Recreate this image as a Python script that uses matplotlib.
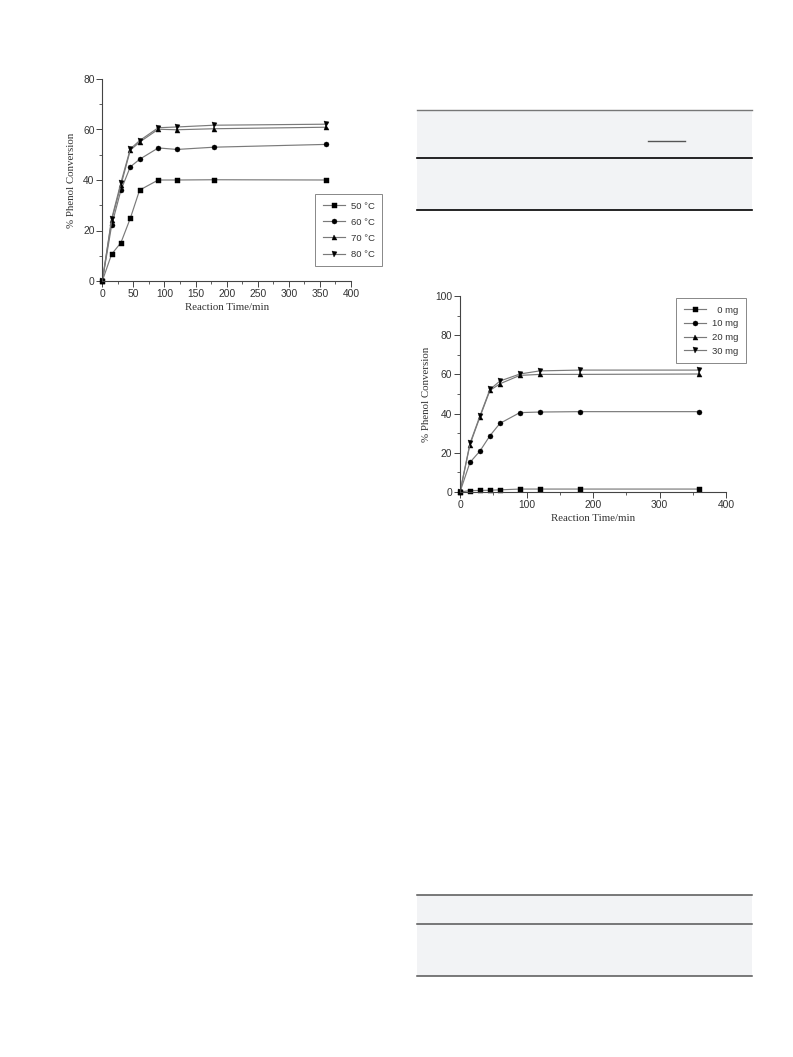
import matplotlib
matplotlib.use("Agg")
import matplotlib.pyplot as plt
from matplotlib.lines import Line2D
from matplotlib.patches import Rectangle
from matplotlib.ticker import MultipleLocator

# ---------------- data ----------------
time_min = [0, 15, 30, 45, 60, 90, 120, 180, 360]

temp_labels = ["50 \u00b0C", "60 \u00b0C", "70 \u00b0C", "80 \u00b0C"]
conv_50C = [0, 10.6, 15.2, 24.8, 36.0, 40.0, 40.0, 40.1, 40.0]
conv_60C = [0, 22.0, 36.0, 45.2, 48.2, 52.7, 52.1, 53.0, 54.1]
conv_70C = [0, 24.0, 38.0, 51.8, 55.0, 60.1, 59.9, 60.3, 60.9]
conv_80C = [0, 24.6, 39.0, 52.3, 55.6, 60.7, 61.0, 61.7, 62.1]

dose_labels = ["  0 mg", "10 mg", "20 mg", "30 mg"]
conv_0mg = [0, 0.7, 0.8, 0.9, 1.1, 1.5, 1.5, 1.5, 1.5]
conv_10mg = [0, 15.1, 20.9, 28.7, 35.0, 40.5, 40.8, 41.0, 41.0]
conv_20mg = [0, 24.2, 38.3, 51.8, 55.2, 59.5, 60.0, 60.0, 60.2]
conv_30mg = [0, 24.8, 38.8, 52.3, 56.6, 60.2, 61.8, 62.2, 62.2]

markers = ["s", "o", "^", "v"]

# ---------------- style ----------------
W, H = 793, 1057
fig = plt.figure(figsize=(W / 100, H / 100), dpi=100)
fig.patch.set_facecolor("white")

tick_font = ["Liberation Sans", "DejaVu Sans"]
label_font = ["Liberation Serif", "DejaVu Serif"]
line_col = "#7a7a7a"
spine_col = "#444444"


def fx(px):
    return px / W


def fy(py):
    return 1 - py / H


def style_axes(ax):
    for s in ["top", "right"]:
        ax.spines[s].set_visible(False)
    for s in ["left", "bottom"]:
        ax.spines[s].set_color(spine_col)
        ax.spines[s].set_linewidth(0.8)
    ax.tick_params(which="major", direction="out", length=4, width=0.7,
                   color=spine_col, labelsize=7.4, labelcolor="#333333", pad=1.5)
    ax.tick_params(which="minor", direction="out", length=2, width=0.6,
                   color=spine_col)
    for lab in ax.get_xticklabels() + ax.get_yticklabels():
        lab.set_family(tick_font)


def add_legend(ax, handles, labels, x0, y0, spacing):
    leg = ax.legend(handles, labels, loc="upper left",
                    bbox_to_anchor=(fx(x0), fy(y0)), bbox_transform=fig.transFigure,
                    borderaxespad=0, frameon=True, fancybox=False,
                    edgecolor="#888888", framealpha=1, handlelength=2.4,
                    handletextpad=0.6, labelspacing=spacing, borderpad=0.8,
                    prop={"family": tick_font, "size": 6.8})
    leg.get_frame().set_linewidth(0.7)
    for t in leg.get_texts():
        t.set_color("#333333")
    return leg


# ---------------- chart 1 ----------------
ax1 = fig.add_axes([fx(102.3), fy(281), fx(351) - fx(102.3), fy(79) - fy(281)])
handles1 = []
for yv, mk in zip([conv_50C, conv_60C, conv_70C, conv_80C], markers):
    h, = ax1.plot(time_min, yv, color=line_col, lw=0.85, marker=mk, ms=3.6,
                  mfc="black", mec="black", mew=0.3, clip_on=False)
    handles1.append(h)
ax1.set_xlim(0, 400)
ax1.set_ylim(0, 80)
ax1.xaxis.set_major_locator(MultipleLocator(50))
ax1.xaxis.set_minor_locator(MultipleLocator(25))
ax1.yaxis.set_major_locator(MultipleLocator(20))
ax1.yaxis.set_minor_locator(MultipleLocator(10))
style_axes(ax1)
ax1.set_xlabel("Reaction Time/min", family=label_font, size=7.8, color="#333333", labelpad=3)
ax1.set_ylabel("% Phenol Conversion", family=label_font, size=7.8, color="#333333", labelpad=5)
add_legend(ax1, handles1, temp_labels, 315, 194, 0.75)

# ---------------- chart 2 ----------------
ax2 = fig.add_axes([fx(460), fy(492), fx(726) - fx(460), fy(296) - fy(492)])
handles2 = []
for yv, mk in zip([conv_0mg, conv_10mg, conv_20mg, conv_30mg], markers):
    h, = ax2.plot(time_min, yv, color=line_col, lw=0.85, marker=mk, ms=3.6,
                  mfc="black", mec="black", mew=0.3, clip_on=False)
    handles2.append(h)
ax2.set_xlim(0, 400)
ax2.set_ylim(0, 100)
ax2.xaxis.set_major_locator(MultipleLocator(100))
ax2.xaxis.set_minor_locator(MultipleLocator(50))
ax2.yaxis.set_major_locator(MultipleLocator(20))
ax2.yaxis.set_minor_locator(MultipleLocator(10))
style_axes(ax2)
ax2.set_xlabel("Reaction Time/min", family=label_font, size=7.8, color="#333333", labelpad=3)
ax2.set_ylabel("% Phenol Conversion", family=label_font, size=7.8, color="#333333", labelpad=3)
add_legend(ax2, handles2, dose_labels, 676, 298, 0.5)

# ---------------- table decorations ----------------
band = "#f2f3f5"
fig.add_artist(Rectangle((fx(417), fy(210)), fx(752) - fx(417), fy(110) - fy(210),
                         transform=fig.transFigure, facecolor=band, edgecolor="none", zorder=0))
for yy, c, lw in [(110, "#777777", 1.0), (158, "black", 1.2), (210, "black", 1.2)]:
    fig.add_artist(Line2D([fx(417), fx(752)], [fy(yy), fy(yy)], transform=fig.transFigure,
                          color=c, lw=lw))
fig.add_artist(Line2D([fx(648), fx(685)], [fy(141), fy(141)], transform=fig.transFigure,
                      color="#555555", lw=1.0))

fig.add_artist(Rectangle((fx(417), fy(976)), fx(752) - fx(417), fy(895) - fy(976),
                         transform=fig.transFigure, facecolor=band, edgecolor="none", zorder=0))
for yy in [895, 924, 976]:
    fig.add_artist(Line2D([fx(417), fx(752)], [fy(yy), fy(yy)], transform=fig.transFigure,
                          color="#555555", lw=1.1))

fig.savefig("out.png", dpi=100, facecolor="white")
